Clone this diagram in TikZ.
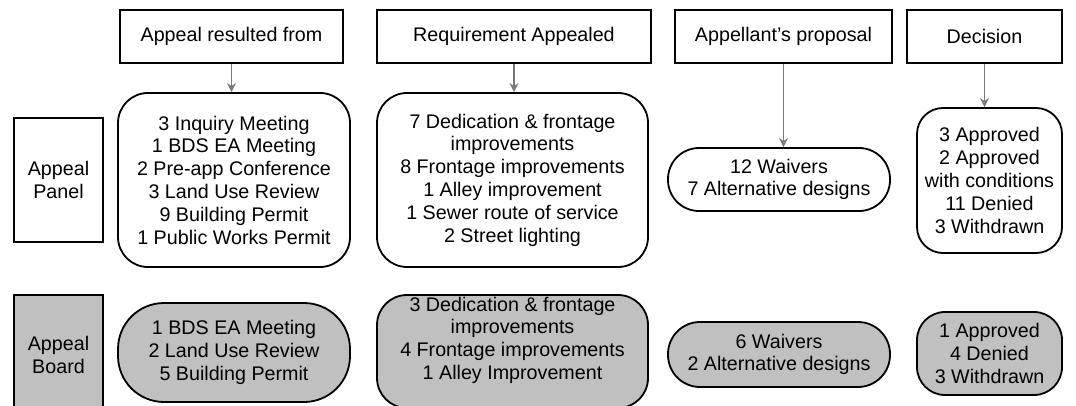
\documentclass[tikz,border=0pt]{standalone}
\usepackage{fontspec}
\setmainfont{Liberation Sans}
\usetikzlibrary{arrows.meta}
\definecolor{boardgray}{RGB}{192,192,192}
\definecolor{arrgray}{RGB}{120,120,120}
\tikzset{
  txt/.style={font=\fontsize{19.7}{22.8}\selectfont, align=center, inner sep=0pt},
  hdr/.style={txt, draw, line width=1.4pt, rectangle},
  rbox/.style={txt, draw, line width=1.8pt, rectangle},
  sbox/.style={rbox, fill=boardgray},
  arr/.style={draw=arrgray, line width=1.6pt, -{Stealth[open, length=9pt, width=9pt]}}
}
\begin{document}
\begin{tikzpicture}[x=1pt, y=-1pt]
\useasboundingbox (0,0) rectangle (1076,406);

% headers
\node[hdr, minimum width=223pt, minimum height=53pt] (H1) at (231.5,36.5) {Appeal resulted from};
\node[hdr, minimum width=274pt, minimum height=53pt] (H2) at (514,36.5) {Requirement Appealed};
\node[hdr, minimum width=217pt, minimum height=53pt] (H3) at (783.5,36.5) {Appellant's proposal};
\node[hdr, minimum width=155pt, minimum height=53pt] (H4) at (984.5,36.5) {Decision};

% row labels
\node[hdr, minimum width=89pt, minimum height=124pt] (P) at (58.5,180) {Appeal\\Panel};
\node[hdr, fill=boardgray, minimum width=89pt, minimum height=120pt] (B) at (58.5,355) {Appeal\\Board};

% panel row
\node[rbox, rounded corners=30pt, minimum width=232pt, minimum height=174pt] (A1) at (234,180)
  {3 Inquiry Meeting\\1 BDS EA Meeting\\2 Pre-app Conference\\3 Land Use Review\\9 Building Permit\\1 Public Works Permit};
\node[rbox, rounded corners=30pt, minimum width=271pt, minimum height=174pt] (A2) at (512.5,180)
  {7 Dedication \& frontage\\improvements\\8 Frontage improvements\\1 Alley improvement\\1 Sewer route of service\\2 Street lighting};
\node[rbox, rounded corners=31pt, minimum width=222pt, minimum height=63pt] (A3) at (779,179.5)
  {12 Waivers\\7 Alternative designs};
\node[rbox, rounded corners=26pt, minimum width=145pt, minimum height=145pt] (A4) at (989.5,180.5)
  {3 Approved\\2 Approved\\with conditions\\11 Denied\\3 Withdrawn};

% board row
\node[sbox, rounded corners=46pt, minimum width=232pt, minimum height=99pt] (B1) at (234,352.5)
  {1 BDS EA Meeting\\2 Land Use Review\\5 Building Permit};
\node[sbox, rounded corners=30pt, minimum width=271pt, minimum height=113pt] (B2) at (512.5,351.5)
  {3 Dedication \& frontage\\improvements\\4 Frontage improvements\\1 Alley Improvement\\[4pt]};
\node[sbox, rounded corners=32pt, minimum width=222pt, minimum height=65pt] (B3) at (779,354.5)
  {6 Waivers\\2 Alternative designs};
\node[sbox, rounded corners=28pt, minimum width=145pt, minimum height=83pt] (B4) at (989.5,353.5)
  {1 Approved\\4 Denied\\3 Withdrawn};

% arrows
\draw[arr] (H1.south) -- (H1.south |- A1.north);
\draw[arr] (H2.south) -- (H2.south |- A2.north);
\draw[arr] (H3.south) -- (H3.south |- A3.north);
\draw[arr] (H4.south) -- (H4.south |- A4.north);
\end{tikzpicture}
\end{document}
